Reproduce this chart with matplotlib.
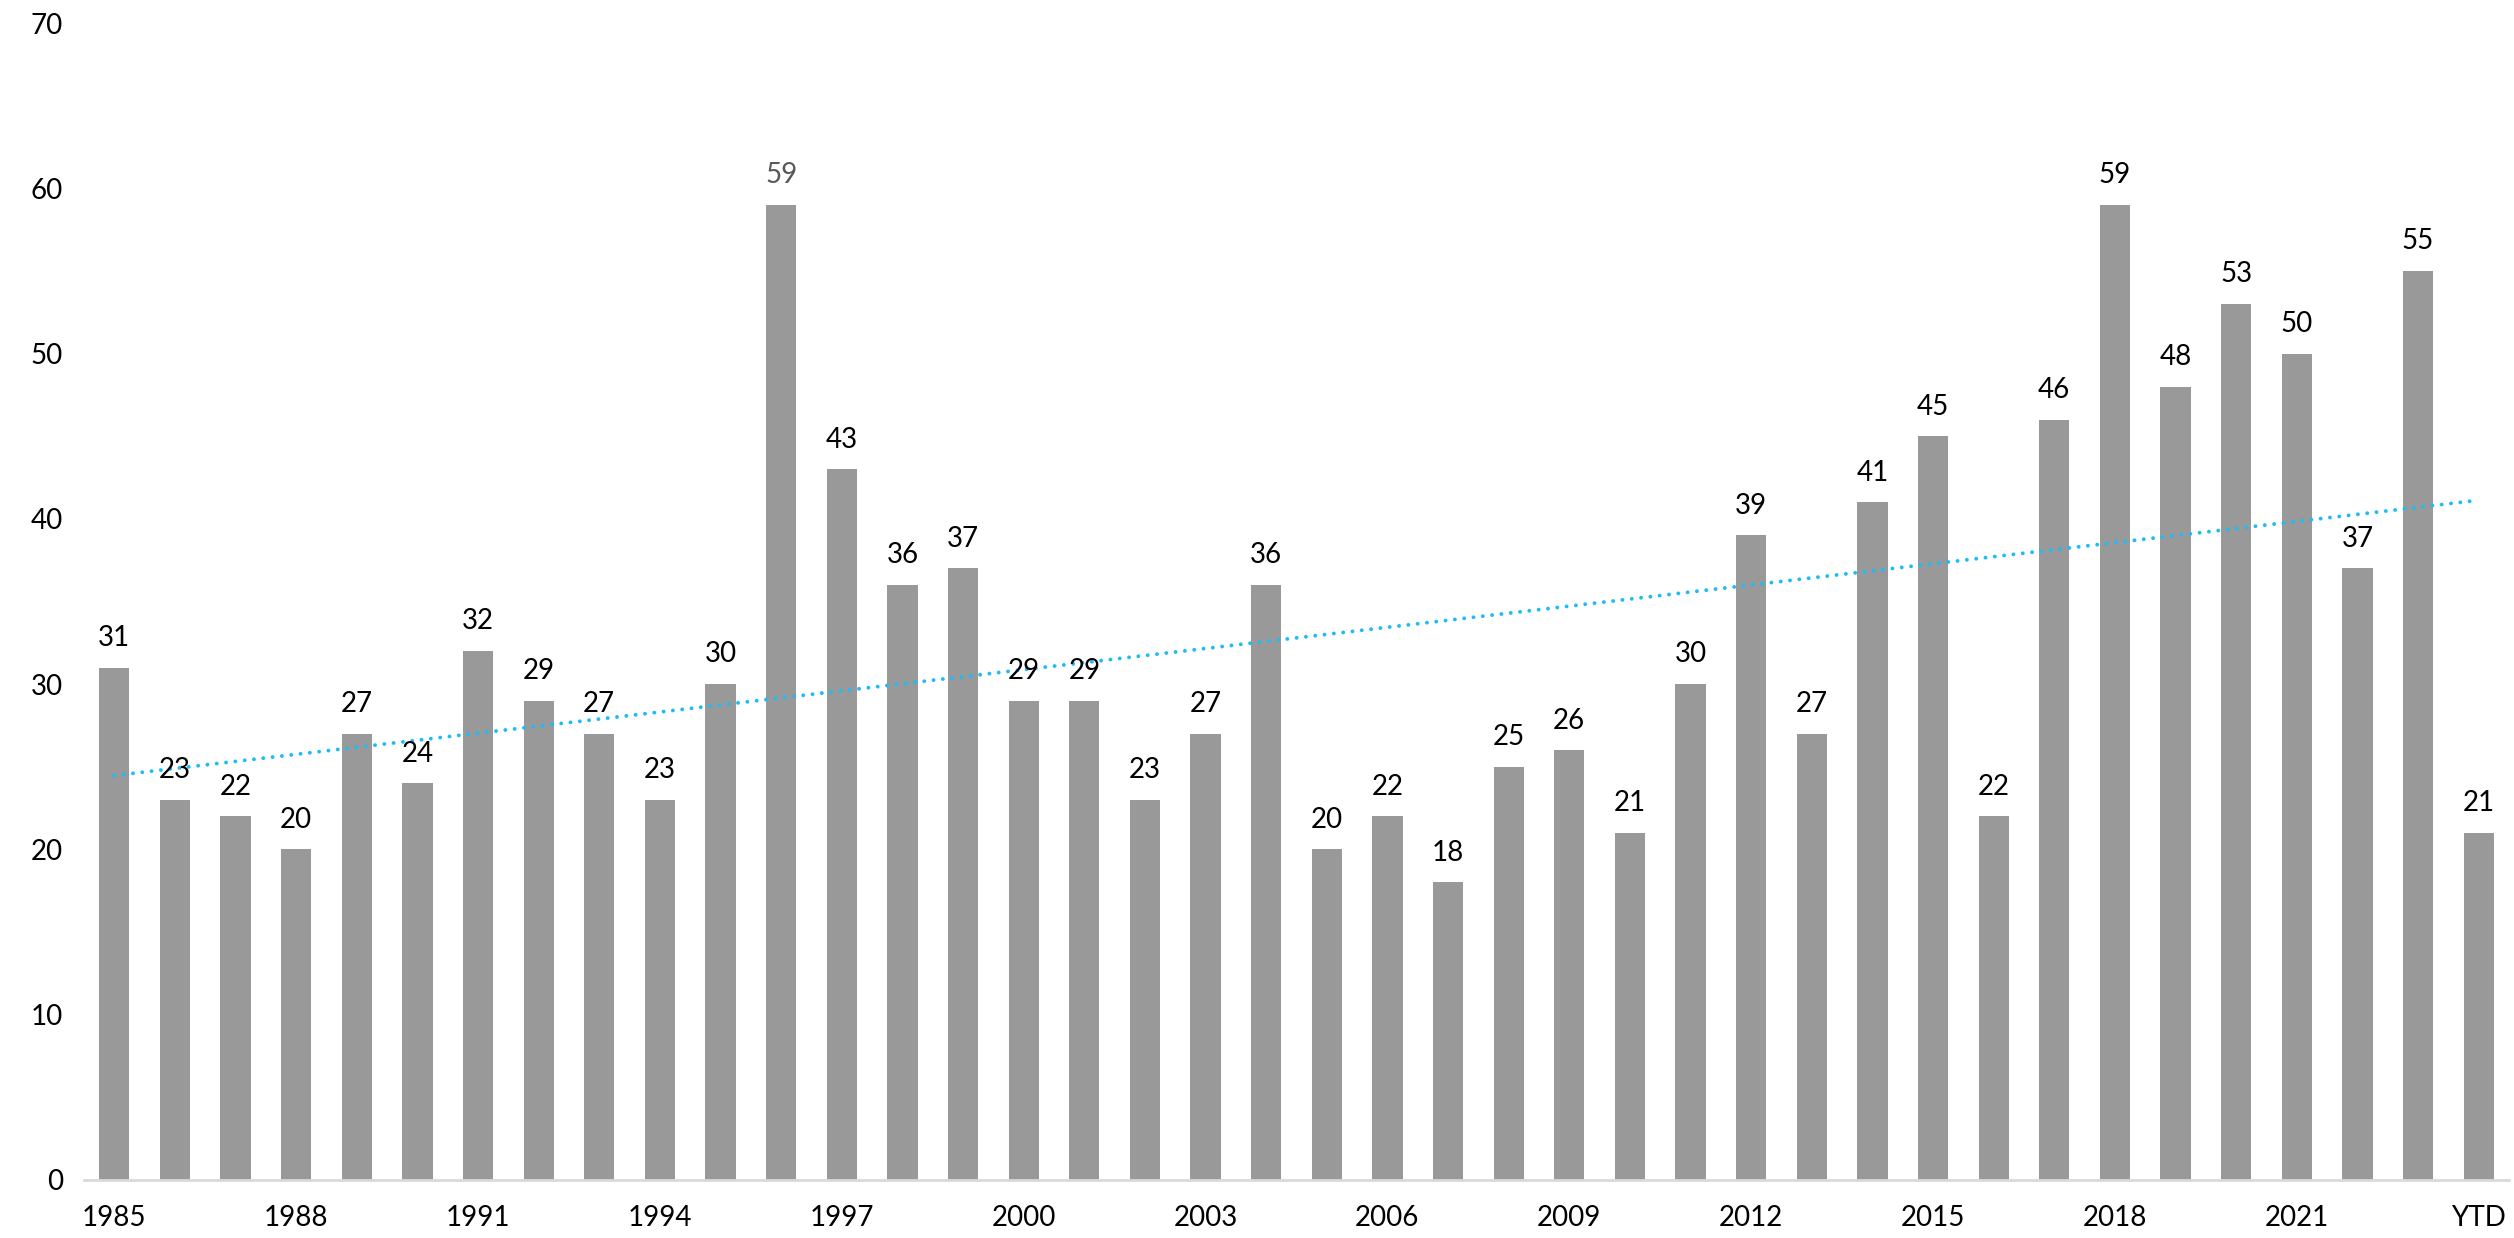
import numpy as np
import matplotlib.pyplot as plt

# yearly counts, 1985-2023 plus year to date
years = [str(y) for y in range(1985, 2024)] + ['YTD']
counts = [31, 23, 22, 20, 27, 24, 32, 29, 27, 23,
          30, 59, 43, 36, 37, 29, 29, 23, 27, 36,
          20, 22, 18, 25, 26, 21, 30, 39, 27, 41,
          45, 22, 46, 59, 48, 53, 50, 37, 55, 21]
tick_labels = [y if i % 3 == 0 else '' for i, y in enumerate(years)]
tick_labels[-1] = 'YTD'

plt.rcParams['font.family'] = ['Lato', 'DejaVu Sans']

fig = plt.figure(figsize=(25.14, 12.38), dpi=100)
ax = fig.add_axes([84 / 2514, 58 / 1238, 2425 / 2514, 1157 / 1238])

x = np.arange(len(counts))
bars = ax.bar(x, counts, 0.5, color='#999999', zorder=2)

# linear trendline over all bars
k, b = np.polyfit(x, counts, 1)
ax.plot(x, k * x + b, color='#1EBCF5', lw=2.8, linestyle=(0, (0.01, 2.4)),
        dash_capstyle='round', zorder=3)

for i, r in enumerate(bars):
    col = '#595959' if i == 11 else 'black'
    ax.annotate(str(counts[i]), (r.get_x() + r.get_width() / 2, counts[i]),
                xytext=(0, 12), textcoords='offset points',
                ha='center', va='bottom', fontsize=20, color=col)

ax.set_xlim(-0.5, len(counts) - 0.5)
ax.set_ylim(0, 70)
ax.set_yticks(range(0, 71, 10))
ax.set_xticks(x)
ax.set_xticklabels(tick_labels)
ax.tick_params(axis='both', length=0, labelsize=20)
ax.tick_params(axis='y', pad=15)
ax.tick_params(axis='x', pad=18)

for s in ['top', 'right', 'left']:
    ax.spines[s].set_visible(False)
ax.spines['bottom'].set_color('#D9D9D9')
ax.spines['bottom'].set_linewidth(2)

fig.savefig('out.png', dpi=100)
